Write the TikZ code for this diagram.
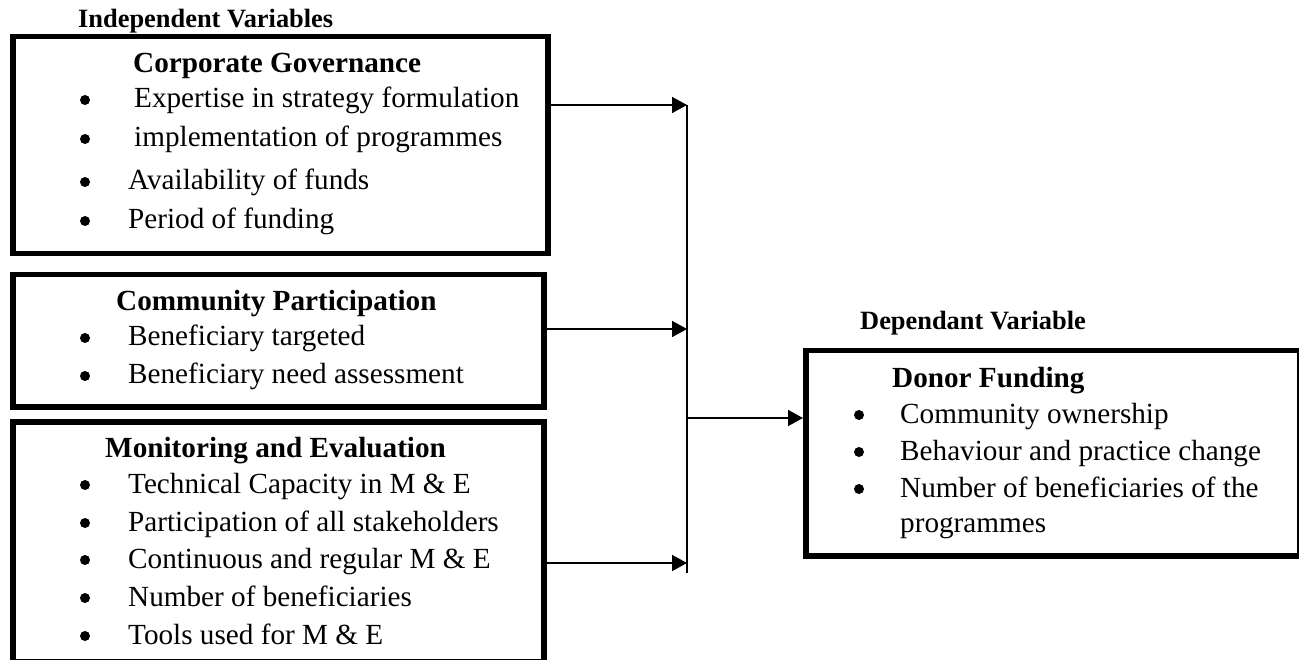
\documentclass[tikz,border=0pt]{standalone}
\usepackage{fontspec}
\setmainfont{Liberation Serif}
\usetikzlibrary{arrows.meta}
\begin{document}
\begin{tikzpicture}[x=1pt,y=-1pt,
  box/.style={draw, line width=5.5pt, anchor=north west, inner sep=0pt},
  txt/.style={anchor=base west, inner sep=0pt, font=\fontsize{29.2}{35}\selectfont},
  head/.style={anchor=base west, inner sep=0pt, font=\fontsize{29.2}{35}\selectfont\bfseries},
  lab/.style={anchor=base west, inner sep=0pt, font=\fontsize{26.4}{32}\selectfont\bfseries},
  conn/.style={line width=1.7pt},
  arr/.style={conn, -{Triangle[length=15pt,width=16pt]}},
  dot/.style={fill=black}
  ]
\useasboundingbox (0,0) rectangle (1299,660);

% boxes
\node[box, minimum width=535pt, minimum height=217pt] (cg) at (10,34) {};
\node[box, minimum width=531pt, minimum height=132pt] (cp) at (10,272) {};
\node[box, minimum width=531pt, minimum height=240pt] (me) at (10,419) {};
\node[box, minimum width=494pt, minimum height=205pt] (df) at (803,348) {};

% labels
\node[lab] (iv) at (78,28) {Independent Variables};
\node[lab] (dv) at (860,330) {Dependant Variable};

% Corporate Governance
\node[head] (cgh) at (133,73) {Corporate Governance};
\node[txt] (cg1) at (134,108) {Expertise in strategy formulation};
\node[txt] (cg2) at (134,147) {implementation of programmes};
\node[txt] (cg3) at (128,190) {Availability of funds};
\node[txt] (cg4) at (128,229) {Period of funding};
\foreach \yy in {100,139,182,221} \fill[dot] (85,\yy) circle[radius=5pt];

% Community Participation
\node[head] (cph) at (116,311) {Community Participation};
\node[txt] (cp1) at (128,346) {Beneficiary targeted};
\node[txt] (cp2) at (128,384) {Beneficiary need assessment};
\foreach \yy in {338,376} \fill[dot] (85,\yy) circle[radius=5pt];

% Monitoring and Evaluation
\node[head] (meh) at (105,457) {Monitoring and Evaluation};
\node[txt] (me1) at (128,493) {Technical Capacity in M \& E};
\node[txt] (me2) at (128,531) {Participation of all stakeholders};
\node[txt] (me3) at (128,568) {Continuous and regular M \& E};
\node[txt] (me4) at (128,606) {Number of beneficiaries};
\node[txt] (me5) at (128,644) {Tools used for M \& E};
\foreach \yy in {485,523,560,598,636} \fill[dot] (85,\yy) circle[radius=5pt];

% Donor Funding
\node[head] (dfh) at (892,388) {Donor Funding};
\node[txt] (df1) at (900,423) {Community ownership};
\node[txt] (df2) at (900,460) {Behaviour and practice change};
\node[txt] (df3) at (900,497) {Number of beneficiaries of the};
\node[txt] (df4) at (900,532) {programmes};
\foreach \yy in {415,452,489} \fill[dot] (859,\yy) circle[radius=5pt];

% connectors
\coordinate (j1) at (687,105);
\coordinate (j2) at (687,329);
\coordinate (j3) at (687,563);
\coordinate (j4) at (687,418);
\coordinate (vb) at (687,573);
\draw[arr] (cg.east |- j1) -- (j1);
\draw[arr] (cp.east |- j2) -- (j2);
\draw[arr] (me.east |- j3) -- (j3);
\draw[line width=1.4pt] (j1) -- (vb);
\draw[arr] (j4) -- (df.west |- j4);
\end{tikzpicture}
\end{document}
